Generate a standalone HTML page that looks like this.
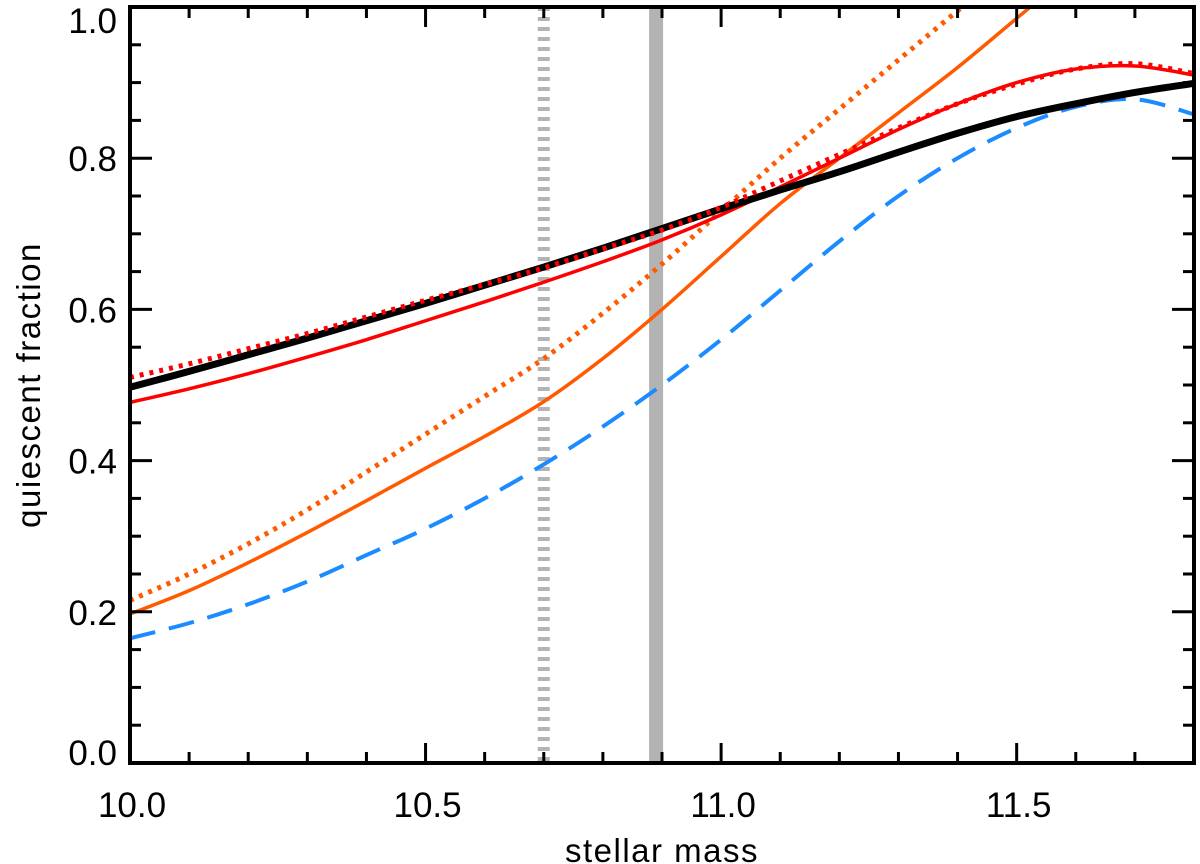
<!DOCTYPE html>
<html><head><meta charset="utf-8"><style>
html,body{margin:0;padding:0;background:#fff;}
svg{display:block;font-family:"Liberation Sans",sans-serif;}
</style></head><body>
<svg id="chart" width="1200" height="864" viewBox="0 0 1200 864">
<defs><clipPath id="plotclip"><rect x="130" y="7" width="1064" height="756"/></clipPath></defs>
<g id="marks" clip-path="url(#plotclip)"></g>
<g id="axes"></g>
<text x="662" y="862" font-size="33" text-anchor="middle" letter-spacing="1.5">stellar mass</text>
<text transform="translate(40,385) rotate(-90)" font-size="33" text-anchor="middle" letter-spacing="1.5">quiescent fraction</text>
</svg>
<script>
const xTicks=[10.0,10.5,11.0,11.5];
const xTickLabels=["10.0","10.5","11.0","11.5"];
const yTicks=[0,0.2,0.4,0.6,0.8,1.0];
const yTickLabels=["0.0","0.2","0.4","0.6","0.8","1.0"];
const gridX=[10.0,10.1,10.2,10.3,10.4,10.5,10.6,10.7,10.8,10.9,11.0,11.1,11.2,11.3,11.4,11.5,11.6,11.7,11.8];
const blackY=[0.497,0.518,0.54,0.562,0.585,0.608,0.632,0.656,0.681,0.707,0.733,0.758,0.782,0.808,0.833,0.855,0.872,0.887,0.899];
const redDotY=[0.51,0.528,0.548,0.568,0.59,0.612,0.633,0.655,0.68,0.705,0.735,0.77,0.805,0.84,0.872,0.898,0.918,0.925,0.912];
const redY=[0.477,0.495,0.515,0.537,0.56,0.585,0.61,0.636,0.663,0.692,0.725,0.762,0.80,0.838,0.872,0.90,0.918,0.922,0.91];
const orDotY=[0.215,0.25,0.29,0.335,0.385,0.435,0.485,0.535,0.595,0.66,0.73,0.80,0.865,0.93,0.995,1.06];
const orY=[0.197,0.228,0.265,0.305,0.347,0.39,0.432,0.478,0.535,0.60,0.67,0.74,0.80,0.86,0.92,0.985,1.05];
const blueY=[0.165,0.185,0.21,0.24,0.275,0.31,0.35,0.395,0.445,0.50,0.56,0.625,0.69,0.75,0.80,0.84,0.868,0.878,0.858];
const vlineDotted=10.70;
const vlineSolid=10.89;

const X0=130,X1=1194,Y0=763,Y1=7,xmin=10.0,xmax=11.8;
const sx=v=>X0+(v-xmin)/(xmax-xmin)*(X1-X0);
const sy=v=>Y0-v*(Y0-Y1);
const NS="http://www.w3.org/2000/svg";
const marks=document.getElementById('marks'),axes=document.getElementById('axes');
function mk(tag,attrs,parent){const e=document.createElementNS(NS,tag);for(const k in attrs)e.setAttribute(k,attrs[k]);parent.appendChild(e);return e;}
function pathFor(xs,ys){
  const p=ys.map((y,i)=>[sx(xs[i]),sy(y)]);
  let d=`M${p[0][0]},${p[0][1]}`;
  for(let i=0;i<p.length-1;i++){
    const a=p[Math.max(0,i-1)],b=p[i],c=p[i+1],e=p[Math.min(p.length-1,i+2)];
    d+=` C${b[0]+(c[0]-a[0])/6},${b[1]+(c[1]-a[1])/6} ${c[0]-(e[0]-b[0])/6},${c[1]-(e[1]-b[1])/6} ${c[0]},${c[1]}`;
  }
  return d;
}
let vl=mk('line',{x1:sx(vlineDotted),x2:sx(vlineDotted),y1:Y1,y2:Y0,stroke:'#b3b3b3','stroke-width':12,'stroke-dasharray':'4 6'},marks);


let vs=mk('line',{x1:sx(vlineSolid),x2:sx(vlineSolid),y1:Y1,y2:Y0,stroke:'#b3b3b3','stroke-width':14},marks);


const series=[
 [blueY,'#1a8cff',4,'26 14','blue-dashed-curve'],
 [orY,'#ff5a00',3.5,'','orange-solid-curve'],
 [orDotY,'#ff5a00',5,'4 6','orange-dotted-curve'],
 [redY,'#ff0000',3.5,'','red-solid-curve'],
 [blackY,'#000',7,'','black-thick-curve'],
 [redDotY,'#ff0000',5,'4 6','red-dotted-curve']
];
for(const s of series){
  const el=mk('path',{d:pathFor(gridX,s[0]),fill:'none',stroke:s[1],'stroke-width':s[2]},marks);
  if(s[3])el.setAttribute('stroke-dasharray',s[3]);
  
  
}
let fr=mk('rect',{x:X0,y:Y1,width:X1-X0,height:Y0-Y1,fill:'none',stroke:'#000','stroke-width':4},axes);


for(let v=10.0;v<=11.8001;v+=0.1){
  const major=Math.abs(v*2-Math.round(v*2))<1e-6, L=major?20:11, x=sx(v);
  mk('line',{x1:x,x2:x,y1:Y0,y2:Y0-L,stroke:'#000','stroke-width':3},axes);
  mk('line',{x1:x,x2:x,y1:Y1,y2:Y1+L,stroke:'#000','stroke-width':3},axes);
}
for(let v=0;v<=1.0001;v+=0.05){
  const major=Math.abs(v*5-Math.round(v*5))<1e-6, L=major?22:11, y=sy(v);
  mk('line',{x1:X0,x2:X0+L,y1:y,y2:y,stroke:'#000','stroke-width':3},axes);
  mk('line',{x1:X1,x2:X1-L,y1:y,y2:y,stroke:'#000','stroke-width':3},axes);
}
xTicks.forEach((v,i)=>{
  const t=mk('text',{x:sx(v)+2,y:817,'font-size':35,'text-anchor':'middle'},axes);
  t.textContent=xTickLabels[i];
  
  
});
yTicks.forEach((v,i)=>{
  let by=sy(v)+13;
  if(v===0)by=765;
  if(v===1)by=33;
  const t=mk('text',{x:117,y:by,'font-size':35,'text-anchor':'end'},axes);
  t.textContent=yTickLabels[i];
  
  
});
</script>
</body></html>
